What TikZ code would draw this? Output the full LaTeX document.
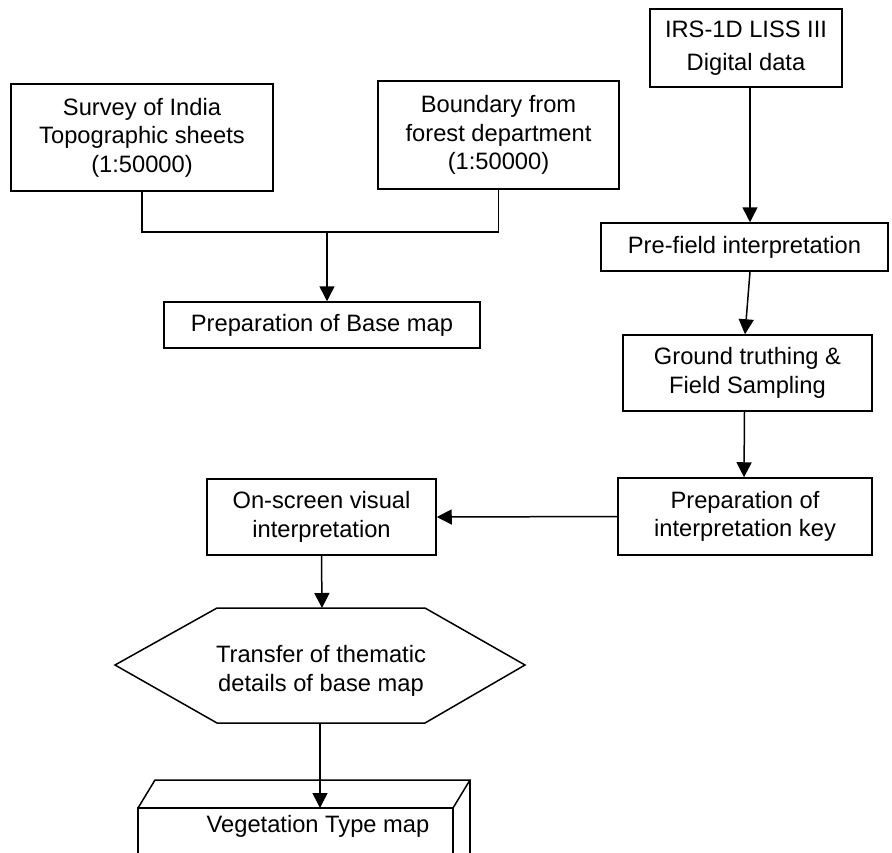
\documentclass[tikz,border=0pt]{standalone}
\usepackage{fontspec}
\setmainfont{Liberation Sans}
\usetikzlibrary{arrows.meta}
\tikzset{
  procbox/.style={draw, line width=1.5pt, align=center, inner sep=0pt,
    font=\fontsize{23.7}{28.5}\selectfont},
  flowtext/.style={align=center, font=\fontsize{23.7}{28.5}\selectfont},
  flow/.style={-{Triangle[length=15pt,width=15pt]}, line width=1.5pt},
}
\begin{document}
\begin{tikzpicture}[x=1pt,y=-1pt]
    \useasboundingbox (0,0) rectangle (892,852);

    % Map sources
    \node[procbox, minimum width=262pt, minimum height=107pt] (survey) at (142,137.5)
        {Survey of India\\Topographic sheets\\(1:50000)};
    \node[procbox, minimum width=241pt, minimum height=108pt] (boundary) at (498.5,135)
        {Boundary from\\forest department\\(1:50000)};
    \node[procbox, minimum width=316pt, minimum height=46pt] (basemap) at (322,325)
        {Preparation of Base map};

    \coordinate (join) at (327,232);
    \draw[line width=1.5pt] (survey.south) |- (join) -| (boundary.south);
    \draw[flow] (join) -- (join |- basemap.north);

    % Satellite data
    \node[procbox, minimum width=192pt, minimum height=78pt] (irs) at (746,48)
        {IRS-1D LISS III\\[4pt]Digital data};
    \node[procbox, minimum width=287pt, minimum height=48pt] (prefield) at (744.5,247)
        {Pre-field interpretation};
    \node[procbox, minimum width=249pt, minimum height=76pt] (ground) at (747.5,373)
        {Ground truthing \&\\Field Sampling};
    \node[procbox, minimum width=254pt, minimum height=77pt] (key) at (745,516.5)
        {Preparation of\\interpretation key};

    \draw[flow] ([xshift=4pt]irs.south) -- ([xshift=5.5pt]prefield.north);
    \draw[flow] ([xshift=5.5pt]prefield.south) -- ([xshift=-2.5pt]ground.north);
    \draw[flow] ([xshift=-3pt]ground.south) -- ([xshift=-1pt]key.north);

    % Interpretation
    \node[procbox, minimum width=229pt, minimum height=76pt] (onscreen) at (321.5,517)
        {On-screen visual\\interpretation};
    \draw[flow] (key.west) -- (onscreen.east);

    % Transfer to base map
    \draw[line width=1.5pt] (115,665) -- (217,608) -- (425,608) -- (525,665)
        -- (425,723) -- (217,723) -- cycle;
    \node[flowtext] (transfer) at (321,671) {Transfer of thematic\\details of base map};
    \coordinate (hextop) at (322,608);
    \coordinate (hexbot) at (320,723);
    \draw[flow] (onscreen.south) -- (hextop);

    % Final map
    \draw[line width=1.5pt] (138,858) -- (138,808) -- (453,808) -- (453,858);
    \draw[line width=1.5pt] (138,808) -- (155,780) -- (470,780) -- (453,808);
    \draw[line width=1.5pt] (470,780) -- (470,858);
    \node[flowtext] (vegmap) at (318,826) {Vegetation Type map};
    \coordinate (vegtop) at (320,808);
    \draw[flow] (hexbot) -- (vegtop);
\end{tikzpicture}
\end{document}
